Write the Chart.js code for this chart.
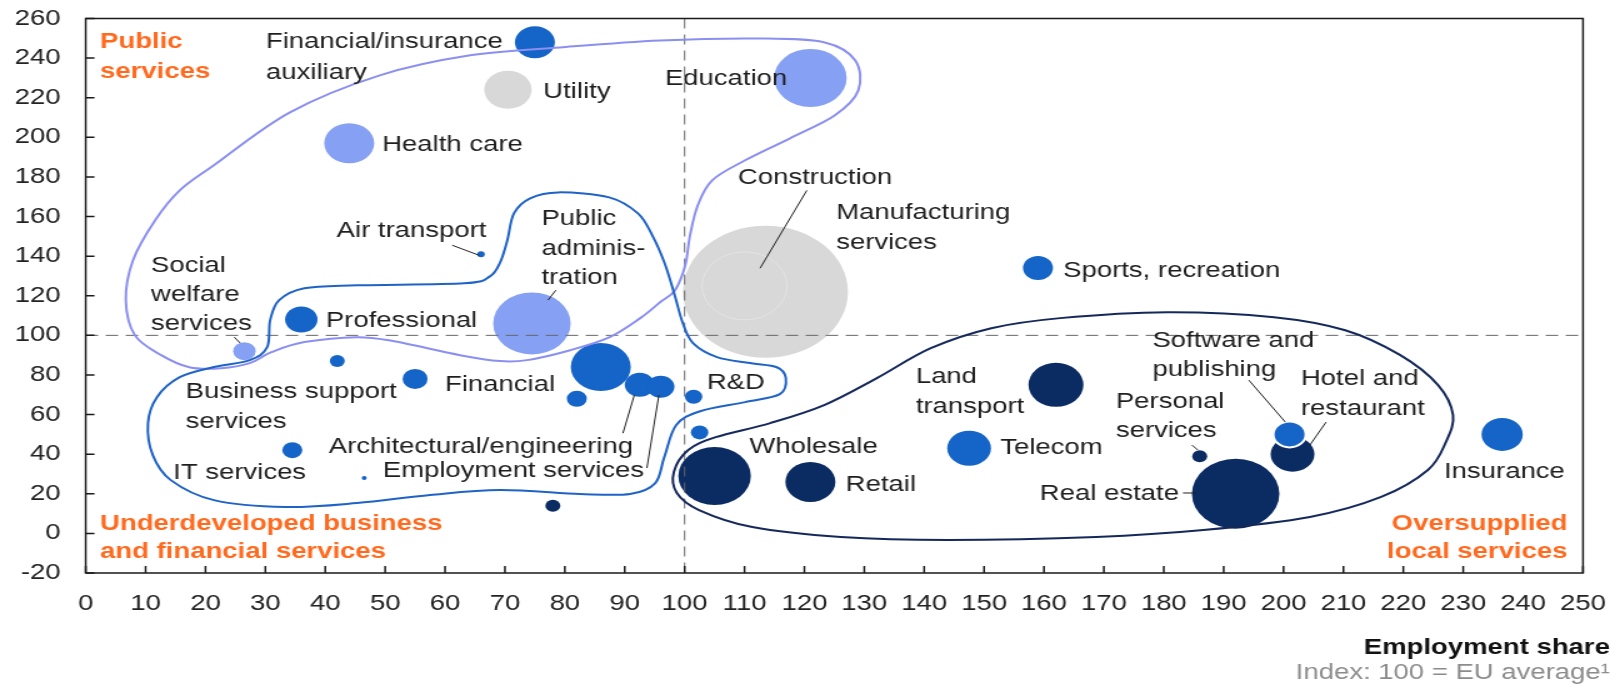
<!DOCTYPE html>
<html>
<head>
<meta charset="utf-8">
<script src="https://cdn.jsdelivr.net/npm/chart.js@4.4.1/dist/chart.umd.min.js"></script>
<style>
  html, body { margin: 0; padding: 0; background: #fff; overflow: hidden; }
  /* the reference is drawn horizontally stretched, so the whole canvas is too */
  #wrap { width: 1298px; height: 687px; transform: scaleX(1.25); transform-origin: 0 0; }
</style>
</head>
<body>
<div id="wrap"><canvas id="chart" width="1298" height="687"></canvas></div>
<script>
// ---- data ----
const sectors = [
  'Financial/insurance auxiliary', 'Professional', 'Business support services', 'Financial',
  'unlabelled 1', 'unlabelled 2', 'Architectural/engineering', 'Employment services', 'R&D',
  'unlabelled 3', 'IT services', 'Air transport', 'unlabelled 4', 'Sports, recreation', 'Telecom',
  'Software and publishing', 'Insurance',
  'Education', 'Health care', 'Public administration', 'Social welfare services',
  'Wholesale', 'Retail', 'Land transport', 'Personal services', 'Real estate', 'Hotel and restaurant', 'unlabelled 5',
  'Utility', 'Manufacturing services', 'Construction'
];
const employmentShare = [
  75, 36, 42, 55, 86, 82, 92.5, 96, 101.5, 102.5, 34.5, 66, 46.5, 159, 147.5, 201, 236.5,
  121, 44, 74.5, 26.5,
  105, 121, 162, 186, 192, 201.5, 78,
  70.5, 113.5, 110
];
const valueIndex = [
  248, 108, 87, 78, 84, 68, 75, 74, 69, 51, 42, 141, 28, 134, 43, 50, 50,
  230, 197, 106, 92,
  29, 26, 75, 39, 20, 40, 14,
  224, 122, 125
];
const bubbleSize = [
  16, 13, 6, 10, 24, 8, 12, 11, 7, 7, 8, 3, 2, 12, 17.5, 13, 16.5,
  29, 20, 31, 9,
  29, 20, 22, 6, 35, 17.5, 6,
  19, 66, 34
];
const cluster = [
  'blue', 'blue', 'blue', 'blue', 'blue', 'blue', 'blue', 'blue', 'blue', 'blue', 'blue', 'blue', 'blue', 'blue', 'blue', 'blue', 'blue',
  'light', 'light', 'light', 'light',
  'navy', 'navy', 'navy', 'navy', 'navy', 'navy', 'navy',
  'gray', 'gray', 'gray'
];

const xTicks = { min: 0, max: 250, step: 10 };
const yTicks = { min: -20, max: 260, step: 20 };

// labels: [text, x, y] in data units, left aligned
const sectorLabels = [
  ['Financial/insurance', 30.1, 248.2], ['auxiliary', 30.1, 232.5],
  ['Utility', 76.4, 222.7],
  ['Education', 96.7, 229.4],
  ['Health care', 49.5, 196.4],
  ['Construction', 108.9, 179.3],
  ['Manufacturing', 125.3, 161.6], ['services', 125.3, 146.5],
  ['Air transport', 41.9, 152.6],
  ['Public', 76.1, 158.9], ['adminis-', 76.1, 143.8], ['tration', 76.1, 129.1],
  ['Social', 10.9, 134.9], ['welfare', 10.9, 120.3], ['services', 10.9, 105.6],
  ['Professional', 40.1, 107.1],
  ['Sports, recreation', 163.2, 132.4],
  ['Software and', 178.1, 97.3], ['publishing', 178.1, 82.6],
  ['Land', 138.6, 78.9], ['transport', 138.6, 63.8],
  ['Hotel and', 202.9, 77.9], ['restaurant', 202.9, 62.8],
  ['Personal', 172.0, 66.4], ['services', 172.0, 51.8],
  ['Business support', 16.7, 71.3], ['services', 16.7, 56.2],
  ['Financial', 60.0, 74.9],
  ['R&D', 103.7, 75.9],
  ['Architectural/engineering', 40.6, 43.6],
  ['Employment services', 49.6, 31.5],
  ['IT services', 14.6, 30.5],
  ['Wholesale', 110.8, 43.6],
  ['Telecom', 152.7, 43.1],
  ['Retail', 126.9, 24.7],
  ['Real estate', 159.3, 19.9],
  ['Insurance', 226.8, 30.9]
];
const regionLabels = [
  ['Public', 2.4, 248.3, 'left'], ['services', 2.4, 232.9, 'left'],
  ['Underdeveloped business', 2.4, 5.0, 'left'], ['and financial services', 2.4, -9.2, 'left'],
  ['Oversupplied', 247.4, 5.0, 'right'], ['local services', 247.4, -9.2, 'right']
];
const leaders = [
  [[61.2, 145.5], [65.7, 140.4]],
  [[78.5, 122.8], [77.2, 117.8]],
  [[24.8, 99.1], [25.8, 96.1]],
  [[120.4, 173.2], [112.6, 133.9]],
  [[89.7, 50.6], [91.6, 69.8]],
  [[93.7, 33.0], [95.7, 69.8]],
  [[194.2, 77.4], [200.3, 56.2]],
  [[207.1, 56.2], [204.4, 44.6]],
  [[184.7, 44.6], [185.7, 42.1]],
  [[183.2, 20.4], [185.4, 20.4]]
];

// outlines of the three groups (data units)
const publicOutline = [
  [21.4, 185.9], [34.1, 212.6], [49.1, 231.3], [64.2, 241.4], [79.2, 245.4], [95.9, 248.9],
  [112.6, 249.9], [123.4, 247.9], [128.5, 238.8], [129.0, 223.7], [125.1, 211.1], [117.6, 199.5],
  [110.1, 188.4], [104.6, 178.3], [102.2, 165.7], [100.9, 150.5], [100.1, 135.4], [98.4, 122.8],
  [95.9, 116.7], [92.6, 108.7], [87.5, 99.1], [80.9, 92.5], [73.7, 87.5], [69.2, 87.0],
  [62.5, 90.0], [51.3, 97.1], [45.3, 99.1], [36.5, 96.6], [31.0, 91.5], [27.4, 86.0],
  [22.6, 83.4], [17.3, 83.9], [12.6, 90.0], [8.2, 100.1], [6.7, 117.7], [7.9, 137.9],
  [11.6, 158.1], [15.7, 173.2]
];
const businessOutline = [
  [71.5, 161.6], [74.2, 169.2], [78.9, 172.2], [87.4, 169.7], [92.2, 161.6], [94.6, 150.5],
  [96.6, 136.9], [98.2, 121.8], [99.7, 106.1], [101.4, 96.1], [105.4, 89.0], [110.9, 86.0],
  [115.4, 83.9], [116.9, 78.4], [115.9, 70.3], [110.1, 66.3], [102.6, 61.7], [98.6, 54.7],
  [96.6, 38.5], [95.1, 25.4], [90.9, 19.9], [82.5, 19.9], [69.2, 21.9], [57.5, 19.4],
  [45.3, 15.3], [33.4, 13.3], [21.4, 16.8], [14.2, 26.9], [11.2, 39.5], [10.4, 55.7],
  [11.9, 68.8], [15.7, 78.9], [21.4, 84.0], [27.4, 87.5], [30.3, 94.0], [30.8, 107.7],
  [32.3, 117.8], [36.5, 123.8], [45.3, 125.3], [63.2, 126.3], [67.5, 129.8], [69.2, 136.9],
  [70.4, 148.0]
];
const localOutline = [
  [100.6, 42.1], [105.2, 48.6], [114.3, 55.7], [123.3, 64.8], [132.1, 78.4], [141.1, 93.5],
  [151.2, 103.6], [162.7, 108.7], [180.5, 111.7], [198.4, 109.2], [210.3, 102.6], [219.5, 90.0],
  [225.8, 74.9], [228.3, 59.7], [227.1, 46.1], [224.1, 32.0], [216.3, 18.4], [204.4, 8.3],
  [186.6, 1.7], [168.7, -1.8], [144.0, -3.3], [126.1, -1.8], [111.3, 3.2], [102.4, 11.8],
  [98.7, 20.4], [98.2, 31.0]
];

// ---- styles ----
const FONT = "'Liberation Sans', Arial, sans-serif";
Chart.defaults.font.family = FONT;
const clusterStyle = {
  blue: { fill: '#1565c8', order: 1 },
  light: { fill: '#86a0f4', order: 2 },
  navy: { fill: '#0b2b63', order: 3 },
  gray: { fill: '#d8d8d8', order: 4 }
};

const datasets = Object.keys(clusterStyle).map(key => {
  const idx = sectors.map((s, i) => i).filter(i => cluster[i] === key);
  return {
    label: key,
    data: idx.map(i => ({ x: employmentShare[i], y: valueIndex[i], r: bubbleSize[i], name: sectors[i] })),
    backgroundColor: clusterStyle[key].fill,
    borderColor: c => {
      const n = c.raw && c.raw.name;
      if (n === 'Software and publishing') return '#ffffff';
      if (n === 'Construction') return 'rgba(255,255,255,0.3)';
      return 'rgba(0,0,0,0)';
    },
    borderWidth: c => {
      const n = c.raw && c.raw.name;
      return n === 'Software and publishing' ? 2 : (n === 'Construction' ? 1 : 0);
    },
    order: clusterStyle[key].order
  };
});

function closedSpline(ctx, pts) {
  const n = pts.length;
  ctx.beginPath();
  ctx.moveTo(pts[0][0], pts[0][1]);
  for (let i = 0; i < n; i++) {
    const p0 = pts[(i - 1 + n) % n], p1 = pts[i], p2 = pts[(i + 1) % n], p3 = pts[(i + 2) % n];
    ctx.bezierCurveTo(
      p1[0] + (p2[0] - p0[0]) / 6, p1[1] + (p2[1] - p0[1]) / 6,
      p2[0] - (p3[0] - p1[0]) / 6, p2[1] - (p3[1] - p1[1]) / 6,
      p2[0], p2[1]);
  }
  ctx.closePath();
  ctx.stroke();
}

const decorations = {
  id: 'decorations',
  afterDatasetsDraw(chart) {
    const { ctx, chartArea: a, scales: { x, y } } = chart;
    const toPx = p => [x.getPixelForValue(p[0]), y.getPixelForValue(p[1])];
    ctx.save();
    // reference lines at the EU average
    ctx.strokeStyle = '#666';
    ctx.lineWidth = 1;
    ctx.setLineDash([10, 6]);
    ctx.beginPath();
    const x100 = x.getPixelForValue(100), y100 = y.getPixelForValue(100);
    ctx.moveTo(x100, a.top); ctx.lineTo(x100, a.bottom);
    ctx.moveTo(a.left, y100); ctx.lineTo(a.right, y100);
    ctx.stroke();
    ctx.setLineDash([]);
    // group outlines
    ctx.lineWidth = 2;
    ctx.strokeStyle = '#8b8ff0';
    closedSpline(ctx, publicOutline.map(toPx));
    ctx.strokeStyle = '#1f63c6';
    closedSpline(ctx, businessOutline.map(toPx));
    ctx.strokeStyle = '#14285a';
    closedSpline(ctx, localOutline.map(toPx));
    // leader lines
    ctx.strokeStyle = '#222';
    ctx.lineWidth = 1;
    leaders.forEach(([p, q]) => {
      const [x1, y1] = toPx(p), [x2, y2] = toPx(q);
      ctx.beginPath(); ctx.moveTo(x1, y1); ctx.lineTo(x2, y2); ctx.stroke();
    });
    ctx.restore();
  },
  afterDraw(chart) {
    const { ctx, chartArea: a, scales: { x, y } } = chart;
    ctx.save();
    // frame and inward ticks
    ctx.strokeStyle = '#1a1a1a';
    ctx.lineWidth = 1.5;
    ctx.strokeRect(a.left, a.top, a.right - a.left, a.bottom - a.top);
    ctx.beginPath();
    x.ticks.forEach(t => {
      const px = x.getPixelForValue(t.value);
      ctx.moveTo(px, a.bottom); ctx.lineTo(px, a.bottom - 7);
    });
    y.ticks.forEach(t => {
      const py = y.getPixelForValue(t.value);
      ctx.moveTo(a.left, py); ctx.lineTo(a.left + 7, py);
    });
    ctx.stroke();
    // sector labels
    ctx.textBaseline = 'middle';
    ctx.textAlign = 'left';
    ctx.fillStyle = '#1e1e1e';
    ctx.font = `22px ${FONT}`;
    sectorLabels.forEach(([t, vx, vy]) => ctx.fillText(t, x.getPixelForValue(vx), y.getPixelForValue(vy)));
    // group labels
    ctx.fillStyle = '#ff6a1f';
    ctx.font = `bold 22px ${FONT}`;
    regionLabels.forEach(([t, vx, vy, al]) => {
      ctx.textAlign = al;
      ctx.fillText(t, x.getPixelForValue(vx), y.getPixelForValue(vy));
    });
    // axis title
    ctx.textAlign = 'right';
    ctx.fillStyle = '#111';
    ctx.font = `bold 22px ${FONT}`;
    ctx.fillText('Employment share', a.right + 21.5, a.bottom + 75);
    ctx.fillStyle = '#8c8c8c';
    ctx.font = `22px ${FONT}`;
    ctx.fillText('Index: 100 = EU average¹', a.right + 21.5, a.bottom + 100);
    ctx.restore();
  }
};

new Chart(document.getElementById('chart'), {
  type: 'bubble',
  data: { datasets },
  options: {
    responsive: false,
    animation: false,
    events: [],
    layout: { autoPadding: false, padding: { top: 18.5, right: 31.6, left: 0, bottom: 0 } },
    plugins: { legend: { display: false }, tooltip: { enabled: false } },
    scales: {
      x: {
        type: 'linear',
        min: xTicks.min, max: xTicks.max,
        ticks: { stepSize: xTicks.step, autoSkip: false, maxRotation: 0, padding: 3, color: '#222', font: { size: 22 } },
        grid: { display: false, drawTicks: true, tickLength: 15 },
        border: { display: false },
        afterFit: s => { s.height = 114; }
      },
      y: {
        type: 'linear',
        min: yTicks.min, max: yTicks.max,
        ticks: { stepSize: yTicks.step, padding: 5, color: '#222', font: { size: 22 } },
        grid: { display: false, drawTicks: true, tickLength: 15 },
        border: { display: false },
        afterFit: s => { s.width = 68.56; }
      }
    }
  },
  plugins: [decorations]
});
</script>
</body>
</html>
